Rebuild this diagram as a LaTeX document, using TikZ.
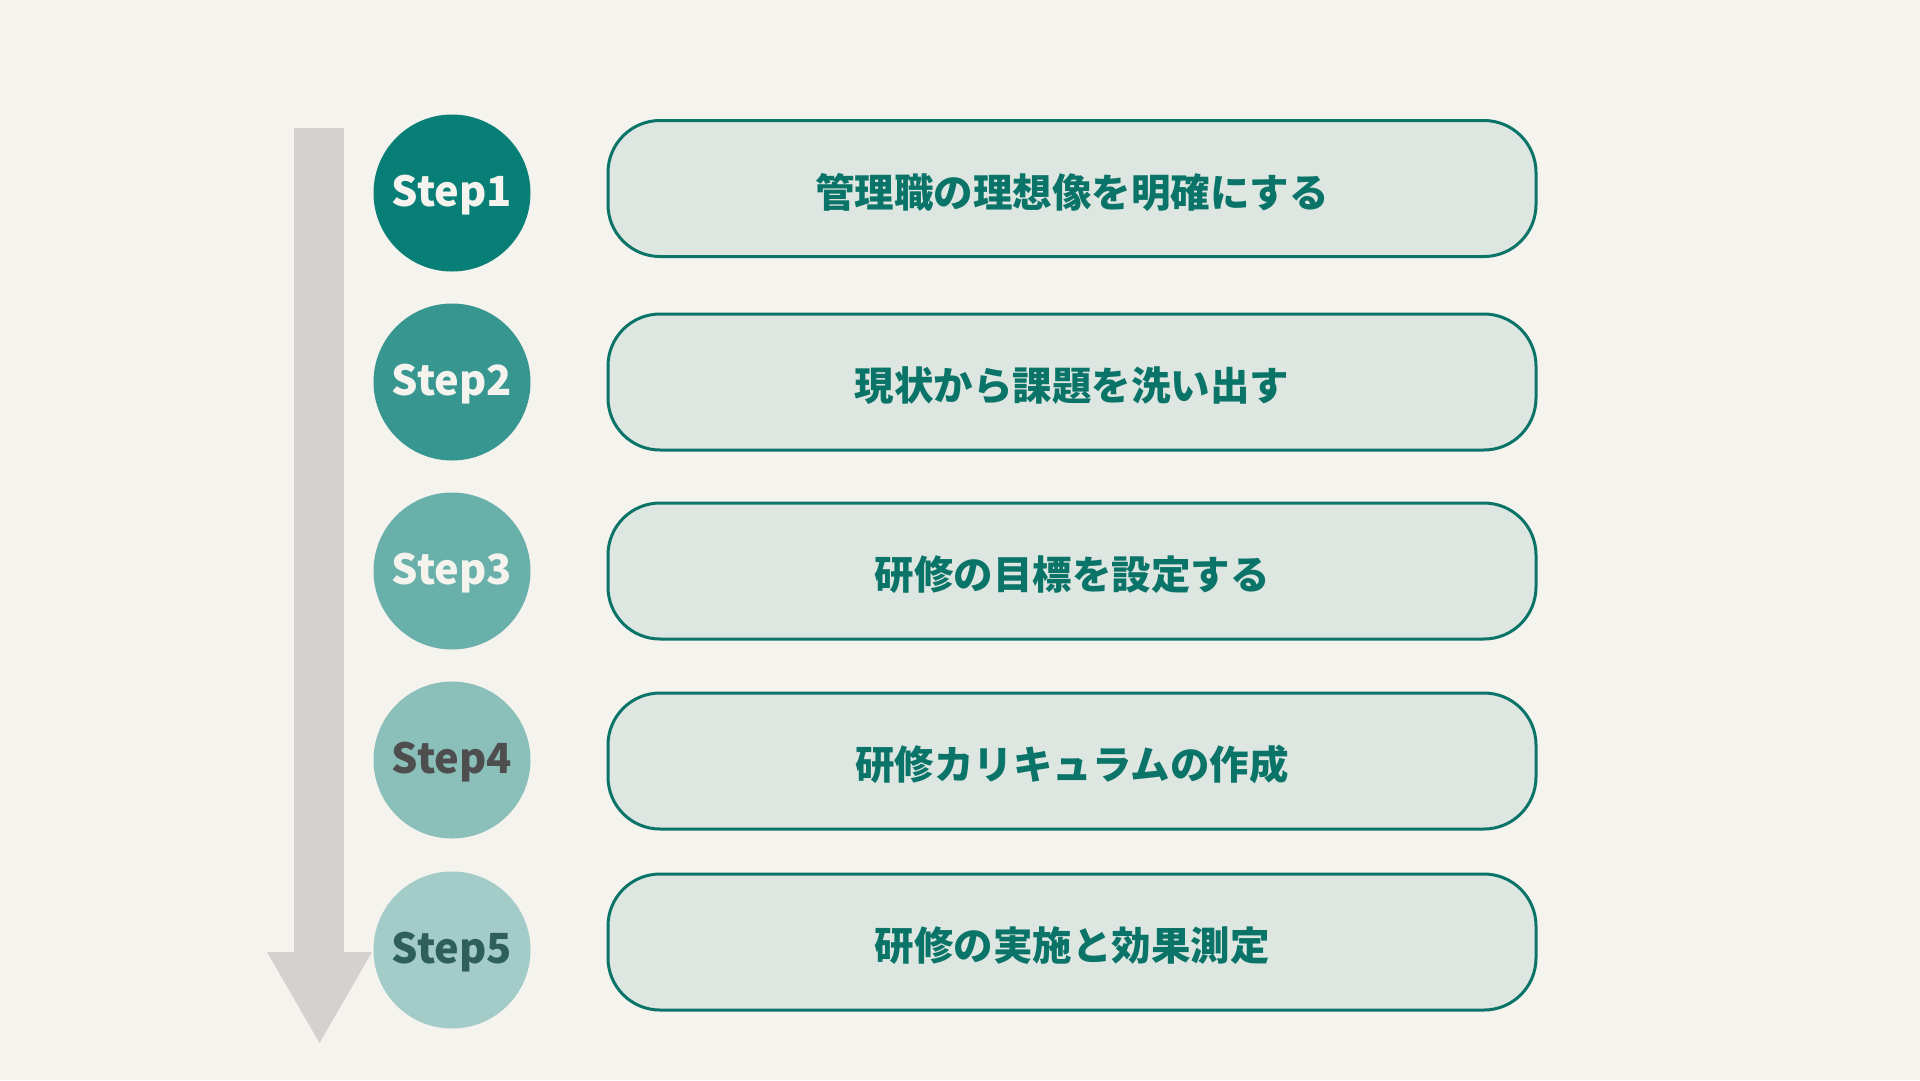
\documentclass[tikz,border=0pt]{standalone}
\usepackage{fontspec}
\newfontfamily\jpfont{Noto Sans CJK JP}
\definecolor{bg}{HTML}{F5F3EE}
\definecolor{barc}{HTML}{D3D2CF}
\definecolor{stepa}{HTML}{077F76}
\definecolor{stepb}{HTML}{379790}
\definecolor{stepc}{HTML}{68B0A9}
\definecolor{stepd}{HTML}{8ABFBA}
\definecolor{stepe}{HTML}{A3CBC7}
\definecolor{boxfill}{HTML}{DEE6E1}
\definecolor{boxline}{HTML}{0B7469}
\definecolor{darkgray}{HTML}{4E4E4E}
\definecolor{darkteal}{HTML}{2F5F5A}

\begin{document}
\begin{tikzpicture}[x=1pt,y=-1pt,
   stepdot/.style={circle,minimum size=157pt,inner sep=0pt,
      text height=32pt,text depth=6pt,
      font=\jpfont\bfseries\fontsize{41.5}{41.5}\selectfont},
   taskbox/.style={draw=boxline,line width=3pt,fill=boxfill,rounded corners=52pt,
      minimum width=928pt,minimum height=136pt,text=boxline,
      text height=42pt,text depth=5pt,
      font=\jpfont\bfseries\fontsize{39.5}{39.5}\selectfont}]
   \fill[bg] (0,0) rectangle (1920,1080);
   \useasboundingbox (0,0) rectangle (1920,1080);

   % arrow
   \fill[barc] (294,128) rectangle (344,953);
   \fill[barc] (267,952) -- (372,952) -- (319.5,1043) -- cycle;

   \node[stepdot,fill=stepa,text=bg] (s1) at (452,193) {Step1};
   \node[stepdot,fill=stepb,text=bg] (s2) at (452,382) {Step2};
   \node[stepdot,fill=stepc,text=bg] (s3) at (452,571) {Step3};
   \node[stepdot,fill=stepd,text=darkgray] (s4) at (452,760) {Step4};
   \node[stepdot,fill=stepe,text=darkteal] (s5) at (452,950) {Step5};

   \node[taskbox] (t1) at (1072,188.5) {管理職の理想像を明確にする};
   \node[taskbox] (t2) at (1072,382) {現状から課題を洗い出す};
   \node[taskbox] (t3) at (1072,571) {研修の目標を設定する};
   \node[taskbox] (t4) at (1072,761) {研修カリキュラムの作成};
   \node[taskbox] (t5) at (1072,942) {研修の実施と効果測定};

\end{tikzpicture}
\end{document}
